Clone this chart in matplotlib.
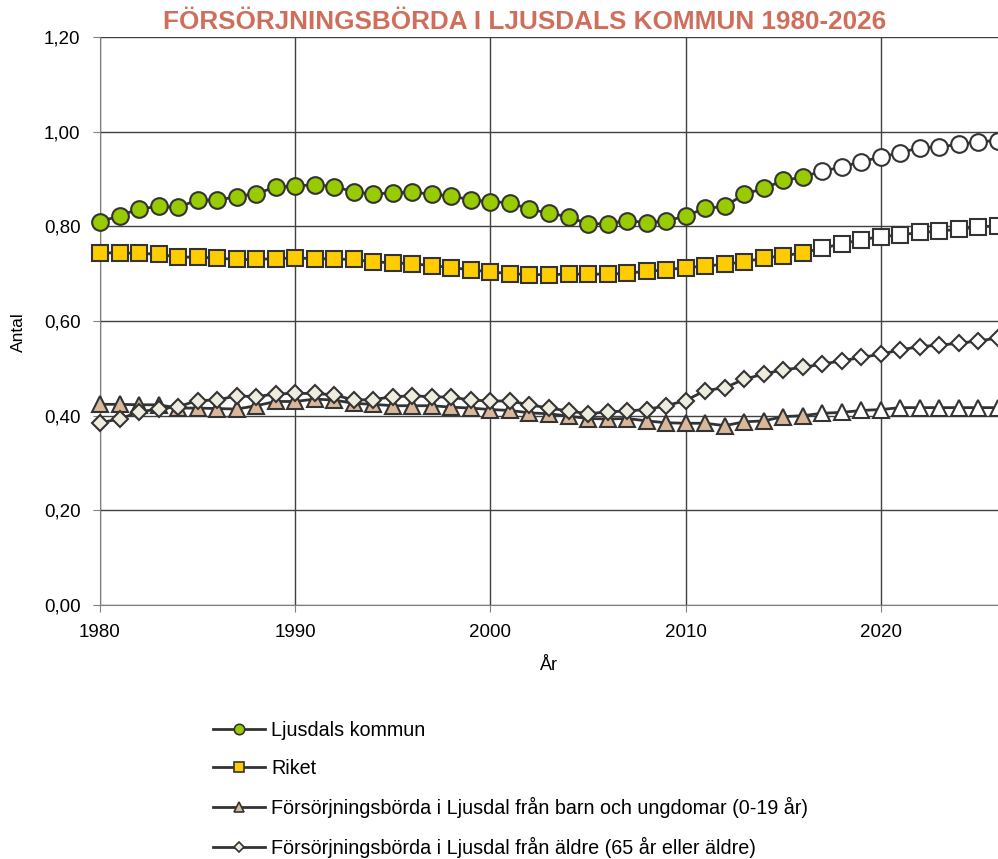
#!/usr/bin/env python3
"""
Försörjningsbörda i Ljusdals kommun 1980-2026 (utfall + prognos).
"""

import numpy as np
import matplotlib
matplotlib.use("Agg")
import matplotlib.pyplot as plt
from matplotlib.ticker import FuncFormatter

# ============================================================
# DATA
# ============================================================

YEARS = list(range(1980, 2027))
LAST_OUTCOME_YEAR = 2016

ljusdal = [
    0.810, 0.822, 0.837, 0.842, 0.840, 0.856, 0.855, 0.863, 0.869, 0.883,
    0.885, 0.888, 0.884, 0.873, 0.868, 0.871, 0.872, 0.868, 0.864, 0.856,
    0.852, 0.850, 0.836, 0.828, 0.820, 0.805, 0.806, 0.812, 0.808, 0.811,
    0.822, 0.838, 0.842, 0.868, 0.880, 0.897, 0.904, 0.917, 0.925, 0.937,
    0.946, 0.956, 0.966, 0.968, 0.973, 0.979, 0.981,
]

riket = [
    0.744, 0.744, 0.743, 0.741, 0.735, 0.735, 0.733, 0.730, 0.730, 0.732,
    0.733, 0.732, 0.731, 0.730, 0.725, 0.723, 0.721, 0.717, 0.713, 0.708,
    0.704, 0.700, 0.698, 0.698, 0.699, 0.699, 0.699, 0.701, 0.705, 0.708,
    0.713, 0.716, 0.720, 0.725, 0.733, 0.738, 0.744, 0.754, 0.763, 0.772,
    0.778, 0.782, 0.787, 0.790, 0.794, 0.799, 0.801,
]

barn = [
    0.424, 0.424, 0.423, 0.423, 0.416, 0.416, 0.415, 0.414, 0.421, 0.430,
    0.430, 0.435, 0.433, 0.426, 0.424, 0.421, 0.421, 0.421, 0.418, 0.416,
    0.413, 0.411, 0.406, 0.404, 0.399, 0.394, 0.393, 0.394, 0.389, 0.385,
    0.384, 0.384, 0.379, 0.387, 0.389, 0.398, 0.400, 0.405, 0.407, 0.411,
    0.413, 0.417, 0.417, 0.417, 0.417, 0.417, 0.417,
]

aldre = [
    0.385, 0.393, 0.408, 0.414, 0.419, 0.432, 0.433, 0.442, 0.440, 0.446,
    0.447, 0.447, 0.444, 0.433, 0.434, 0.440, 0.442, 0.440, 0.439, 0.433,
    0.431, 0.431, 0.423, 0.416, 0.410, 0.404, 0.408, 0.410, 0.413, 0.421,
    0.432, 0.453, 0.459, 0.477, 0.488, 0.497, 0.502, 0.509, 0.516, 0.523,
    0.530, 0.539, 0.546, 0.549, 0.553, 0.558, 0.564,
]

Y_TICKS = [0.0, 0.2, 0.4, 0.6, 0.8, 1.0, 1.2]
X_TICKS = [1980, 1990, 2000, 2010, 2020]

# label, values, marker, fill colour, marker size, legend marker size
SERIES = [
    ("Ljusdals kommun", ljusdal, "o", "#99CC00", 12, 7.5),
    ("Riket", riket, "s", "#FFCC00", 11.3, 7),
    ("Försörjningsbörda i Ljusdal från barn och ungdomar (0-19 år)", barn, "^", "#D8B79A", 11.5, 7.5),
    ("Försörjningsbörda i Ljusdal från äldre (65 år eller äldre)", aldre, "D", "#EEEBDF", 8.5, 5.5),
]

# ============================================================
# FIGURE
# ============================================================

plt.rcParams["font.family"] = ["Liberation Sans", "DejaVu Sans"]

fig = plt.figure(figsize=(9.98, 8.59), dpi=100)
ax = fig.add_axes([0.1002, 0.2957, 0.8998, 0.6612])

x = np.array(YEARS)
edge = "#333333"

handles = []
for label, values, marker, color, ms, lms in SERIES:
    y = np.array(values)
    hist = x <= LAST_OUTCOME_YEAR
    fcast = x > LAST_OUTCOME_YEAR

    ax.plot(x, y, color=edge, linewidth=2, zorder=3, clip_on=False)
    ax.plot(x[hist], y[hist], linestyle="none", marker=marker, markersize=ms,
            markerfacecolor=color, markeredgecolor=edge, markeredgewidth=1.5,
            zorder=4, clip_on=False)
    ax.plot(x[fcast], y[fcast], linestyle="none", marker=marker, markersize=ms,
            markerfacecolor="white", markeredgecolor=edge, markeredgewidth=1.5,
            zorder=4, clip_on=False)

    h, = ax.plot([], [], color=edge, linewidth=2, marker=marker,
                 markersize=lms, markerfacecolor=color,
                 markeredgecolor=edge, markeredgewidth=1.2, label=label)
    handles.append(h)

ax.set_xlim(1980, 2026)
ax.set_ylim(0, 1.2)
ax.set_xticks(X_TICKS)
ax.set_yticks(Y_TICKS)
ax.yaxis.set_major_formatter(FuncFormatter(lambda v, p: f"{v:.2f}".replace(".", ",")))

ax.grid(True, color="#404040", linewidth=1)
ax.set_axisbelow(True)
for side in ["top", "right"]:
    ax.spines[side].set_visible(False)
ax.spines["left"].set_color("#808080")
ax.spines["bottom"].set_color("#808080")
ax.tick_params(axis="both", labelsize=13.5, direction="out", length=5,
               color="#808080")
ax.tick_params(axis="y", pad=9)
ax.tick_params(axis="x", pad=9)

ax.set_xlabel("År", fontsize=13)
ax.xaxis.set_label_coords(0.5, -0.106)
ax.xaxis.label.set_va("center")
ax.set_ylabel("Antal", fontsize=12.5)
ax.yaxis.set_label_coords(-0.0913, 0.48)
ax.yaxis.label.set_va("center")

fig.text(0.526, 0.974, "FÖRSÖRJNINGSBÖRDA I LJUSDALS KOMMUN 1980-2026",
         ha="center", va="center", fontsize=18.8, fontweight="bold",
         color="#D06E5C")

fig.legend(handles=handles, loc="upper left", bbox_to_anchor=(0.2134, 0.161),
           frameon=False, fontsize=14.2, handlelength=2.64, handletextpad=0.3,
           labelspacing=0.97, borderpad=0, borderaxespad=0)

fig.savefig("out.png", dpi=100)
plt.close(fig)
